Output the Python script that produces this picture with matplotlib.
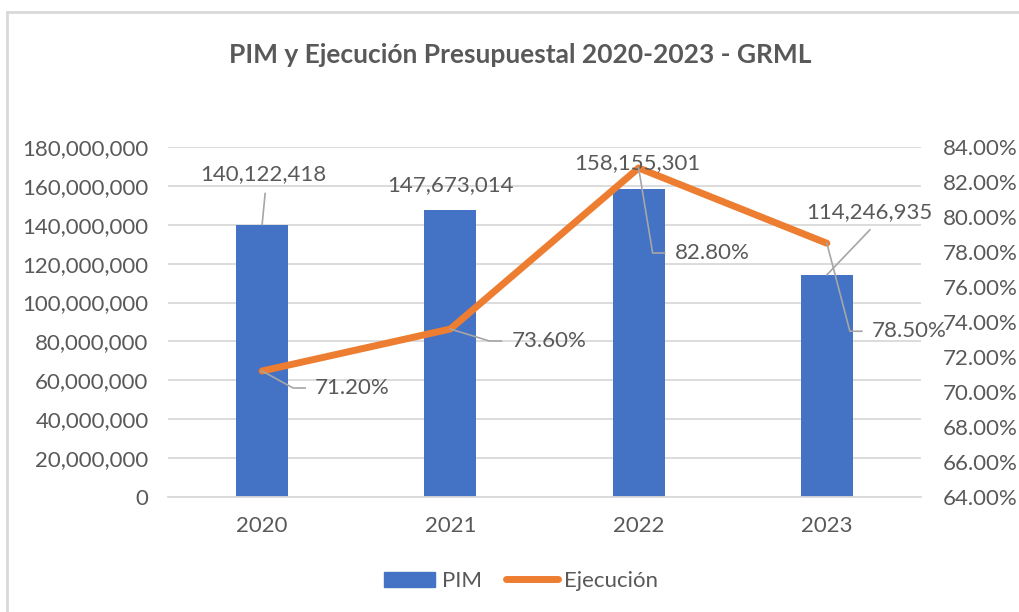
import matplotlib
matplotlib.use("Agg")
import matplotlib.pyplot as plt
from matplotlib.lines import Line2D
from matplotlib.ticker import FuncFormatter, MultipleLocator
import numpy as np

# data
years = ["2020", "2021", "2022", "2023"]
pim = [140122418, 147673014, 158155301, 114246935]
ejecucion = [71.2, 73.6, 82.8, 78.5]

# label placement, pixel offsets from the mark (text centre, leader end)
pim_text_off = [(1, 50), (0, 25), (-1, 26), (42, 63)]
pim_leader_off = [(3, 31), None, None, (43, 45)]
pct_elbow_off = [(31, -17), (39, -12), (14, -85), (23, -88)]

BLUE = "#4472C4"
ORANGE = "#ED7D31"
TXT = "#595959"
GRID = "#D9D9D9"

plt.rcParams["font.family"] = ["Lato", "DejaVu Sans"]

fig = plt.figure(figsize=(10.2, 6.12), dpi=100)
ax = fig.add_axes([168 / 1020, 1 - 497 / 612, 753 / 1020, 350 / 612])
ax2 = ax.twinx()

x = np.arange(len(years))
ax.bar(x, pim, width=0.275, color=BLUE, zorder=2)
ax2.plot(x, ejecucion, color=ORANGE, lw=5, solid_capstyle="round", zorder=3)

ax.set_xlim(-0.5, len(years) - 0.5)
ax.set_ylim(0, 180_000_000)
ax.yaxis.set_major_locator(MultipleLocator(20_000_000))
ax.yaxis.set_major_formatter(FuncFormatter(lambda v, p: f"{v:,.0f}"))
ax2.set_ylim(64, 84)
ax2.yaxis.set_major_locator(MultipleLocator(2))
ax2.yaxis.set_major_formatter(FuncFormatter(lambda v, p: f"{v:.2f}%"))

ax.set_xticks(x)
ax.set_xticklabels(years)
ax.grid(axis="y", color=GRID, lw=1.3, zorder=0)
ax.set_axisbelow(True)
for a in (ax, ax2):
    for s in a.spines.values():
        s.set_visible(False)
    a.tick_params(length=0, labelsize=16, colors=TXT)
ax.spines["bottom"].set_visible(True)
ax.spines["bottom"].set_color(GRID)
ax.spines["bottom"].set_linewidth(1.3)
ax.tick_params(axis="y", pad=14)
ax.tick_params(axis="x", pad=14)
ax2.tick_params(axis="y", pad=16)

fig.suptitle("PIM y Ejecución Presupuestal 2020-2023 - GRML", x=0.51, y=1 - 55 / 612,
             va="center", fontsize=19, fontweight="bold", color=TXT)

# data labels with leader lines, drawn in pixel space
fs = 16
for i, v in enumerate(pim):
    px, py = ax.transData.transform((x[i], v))
    dx, dy = pim_text_off[i]
    fig.text((px + dx) / 1020, (py + dy) / 612, f"{v:,}", ha="center", va="center",
             fontsize=fs, color=TXT)
    if pim_leader_off[i]:
        lx, ly = pim_leader_off[i]
        fig.add_artist(Line2D([px, px + lx], [py, py + ly], transform=None,
                              color="#A6A6A6", lw=1.2))

for i, v in enumerate(ejecucion):
    px, py = ax2.transData.transform((x[i], v))
    ex, ey = pct_elbow_off[i]
    fig.add_artist(Line2D([px, px + ex, px + ex + 12], [py, py + ey, py + ey],
                          transform=None, color="#A6A6A6", lw=1.2, zorder=5))
    fig.text((px + ex + 22) / 1020, (py + ey) / 612, f"{v:.2f}%", ha="left", va="center",
             fontsize=fs, color=TXT)

handles = [plt.Rectangle((0, 0), 1, 1, color=BLUE),
           Line2D([0], [0], color=ORANGE, lw=5, solid_capstyle="round")]
fig.legend(handles, ["PIM", "Ejecución"], loc="center", bbox_to_anchor=(0.511, 1 - 581 / 612),
           ncol=2, frameon=False, fontsize=16, labelcolor=TXT, handlelength=2.3,
           handleheight=0.65, columnspacing=1.1, handletextpad=0.3)

# chart area border (only top and left visible)
fig.add_artist(Line2D([7, 1020], [600, 600], transform=None, color=GRID, lw=2))
fig.add_artist(Line2D([7, 7], [0, 600], transform=None, color=GRID, lw=2))

fig.savefig("out.png", dpi=100)
